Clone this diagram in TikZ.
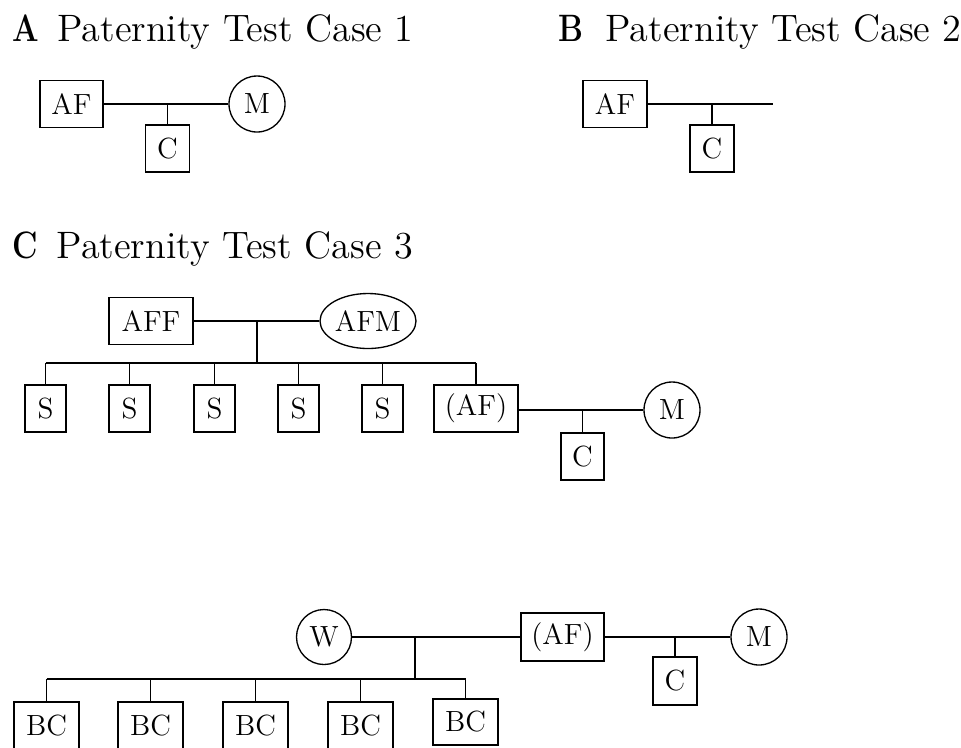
\documentclass[tikz,border=0pt]{standalone}
\usepackage{graphicx}
\usetikzlibrary{shapes.geometric}
\newcommand\boxfont{\fontsize{11}{13}\selectfont}
\newcommand\titlefont{\fontsize{14.4}{17}\selectfont}
\newcommand\panlet[1]{\scalebox{0.82}[1]{\textbf{#1}}}
\tikzset{
  pbox/.style 2 args={draw, rectangle, inner sep=0pt, minimum width=#1*0.377pt, minimum height=#2*0.377pt, font=\boxfont},
  pcirc/.style={draw, circle, inner sep=0pt, minimum size=#1*0.377pt, font=\boxfont},
  pell/.style 2 args={draw, ellipse, inner sep=0pt, minimum width=#1*0.377pt, minimum height=#2*0.377pt, font=\boxfont},
  ptitle/.style={anchor=base west, inner sep=0pt, font=\titlefont},
  link/.style={line width=0.5pt}
}
\begin{document}
\begin{tikzpicture}[x=0.377pt, y=-0.377pt, line width=0.5pt]
\useasboundingbox (0,0) rectangle (961,747);

% Titles
\node[ptitle] (tA) at (12,41) {\panlet{A}\hspace{6.8pt}Paternity Test Case 1};
\node[ptitle] (tB) at (558,41) {\panlet{B}\hspace{8.2pt}Paternity Test Case 2};
\node[ptitle] (tC) at (12,258) {\panlet{C}\hspace{7pt}Paternity Test Case 3};

% Panel A
\node[pbox={63}{47}] (AF1) at (71.5,104) {AF};
\node[pcirc=56] (M1) at (257,104) {M};
\node[pbox={44}{47}] (C1) at (167.5,148.5) {C};
\draw[link] (AF1.east) -- (M1.west);
\draw[link] (C1.north) -- (C1.north |- AF1.east);

% Panel B
\node[pbox={64}{47}] (AF2) at (615,104) {AF};
\coordinate (B2end) at (773,104);
\node[pbox={44}{47}] (C2) at (712,148.5) {C};
\draw[link] (AF2.east) -- (B2end);
\draw[link] (C2.north) -- (C2.north |- AF2.east);

% Panel C, upper family
\node[pbox={84}{47}] (AFF) at (151,321) {AFF};
\node[pell={96}{55}] (AFM) at (368,321) {AFM};
\coordinate (j1) at (257,321);
\coordinate (j1b) at (257,363);
\draw[link] (AFF.east) -- (AFM.west);
\draw[link] (j1) -- (j1b);

\node[pbox={41}{47}] (S1) at (45.5,408.5) {S};
\node[pbox={41}{47}] (S2) at (129.5,408.5) {S};
\node[pbox={41}{47}] (S3) at (214.5,408.5) {S};
\node[pbox={41}{47}] (S4) at (298.5,408.5) {S};
\node[pbox={41}{47}] (S5) at (382.5,408.5) {S};
\node[pbox={84}{47}] (AF3) at (476,408.5) {(AF)};
\draw[link] (S1.north |- j1b) -- (AF3.north |- j1b);
\foreach \n in {S1,S2,S3,S4,S5,AF3}{
  \draw[link] (\n.north) -- (\n.north |- j1b);
}
\node[pcirc=56] (M3) at (672,410) {M};
\node[pbox={43}{47}] (C3) at (582.5,456.5) {C};
\draw[link] (AF3.east |- M3.west) -- (M3.west);
\draw[link] (C3.north) -- (C3.north |- M3.west);

% Panel C, lower family
\node[pcirc=55] (W) at (324,637) {W};
\node[pbox={83}{48}] (AF4) at (562.5,637) {(AF)};
\node[pcirc=56] (M4) at (759,637) {M};
\coordinate (j2) at (415,637);
\coordinate (j2b) at (415,679);
\draw[link] (W.east) -- (AF4.west);
\draw[link] (AF4.east) -- (M4.west);
\draw[link] (j2) -- (j2b);
\node[pbox={44}{48}] (C4) at (675,681) {C};
\draw[link] (C4.north) -- (C4.north |- M4.west);

\node[pbox={65}{47}] (BC1) at (46.5,725.5) {BC};
\node[pbox={65}{47}] (BC2) at (150.5,725.5) {BC};
\node[pbox={65}{47}] (BC3) at (255.5,725.5) {BC};
\node[pbox={65}{47}] (BC4) at (360.5,725.5) {BC};
\node[pbox={65}{46}] (BC5) at (465.5,722) {BC};
\draw[link] (BC1.north |- j2b) -- (BC5.north |- j2b);
\foreach \n in {BC1,BC2,BC3,BC4,BC5}{
  \draw[link] (\n.north) -- (\n.north |- j2b);
}
\end{tikzpicture}
\end{document}
